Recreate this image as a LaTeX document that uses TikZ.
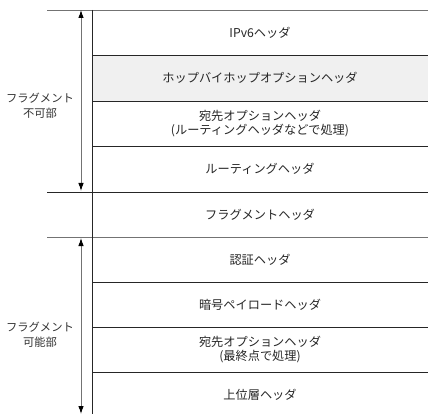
\documentclass[tikz,border=0pt]{standalone}
\usepackage{fontspec}
\newfontfamily\jp{Noto Sans CJK JP}
\usetikzlibrary{arrows.meta}
\begin{document}
\begin{tikzpicture}[x=1pt,y=-1pt,
  row/.style={minimum width=336pt,minimum height=45.3pt,inner sep=0pt,outer sep=0pt,anchor=north west,
     font=\jp\fontsize{12.2}{14.5}\selectfont,align=center,text=black!85},
  sep/.style={draw=black!85,line width=0.9pt},
  longsep/.style={draw=black!55,line width=0.9pt},
  side/.style={font=\jp\fontsize{11.3}{15}\selectfont,align=center,text=black!80},
  dim/.style={draw=black!55,line width=0.9pt,{Latex[black,length=8pt,width=5.5pt]}-{Latex[black,length=8pt,width=5.5pt]}}]
\useasboundingbox (0,0) rectangle (428,414);
\node[row] (r1) at (92,10) {IPv6ヘッダ};
\node[row,fill=black!6] (r2) at (92,55.5) {ホップバイホップオプションヘッダ};
\node[row] (r3) at (92,101) {宛先オプションヘッダ\\(ルーティングヘッダなどで処理)};
\node[row] (r4) at (92,146.5) {ルーティングヘッダ};
\node[row] (r5) at (92,192) {フラグメントヘッダ};
\node[row] (r6) at (92,237) {認証ヘッダ};
\node[row] (r7) at (92,282) {暗号ペイロードヘッダ};
\node[row] (r8) at (92,327) {宛先オプションヘッダ\\(最終点で処理)};
\node[row] (r9) at (92,372.5) {上位層ヘッダ};
\coordinate (l1) at (47,10);
\coordinate (l5) at (47,192);
\coordinate (l6) at (47,237);
\coordinate (bot) at (92,414);
\draw[longsep] (l1) -- (r1.north east);
\draw[sep] (r2.north west) -- (r2.north east);
\draw[sep] (r3.north west) -- (r3.north east);
\draw[sep] (r4.north west) -- (r4.north east);
\draw[sep] (l5) -- (r5.north east);
\draw[longsep] (l6) -- (r6.north east);
\draw[sep] (r7.north west) -- (r7.north east);
\draw[sep] (r8.north west) -- (r8.north east);
\draw[sep] (r9.north west) -- (r9.north east);
\draw[sep] (r1.north west) -- (bot);
\coordinate (a1) at (81,10);
\coordinate (a2) at (81,191);
\coordinate (a3) at (81,238);
\coordinate (a4) at (81,414);
\draw[dim] (a1) -- (a2);
\draw[dim] (a3) -- (a4);
\node[side] (s1) at (40,106) {フラグメント\\不可部};
\node[side] (s2) at (40,335) {フラグメント\\可能部};
\end{tikzpicture}
\end{document}
